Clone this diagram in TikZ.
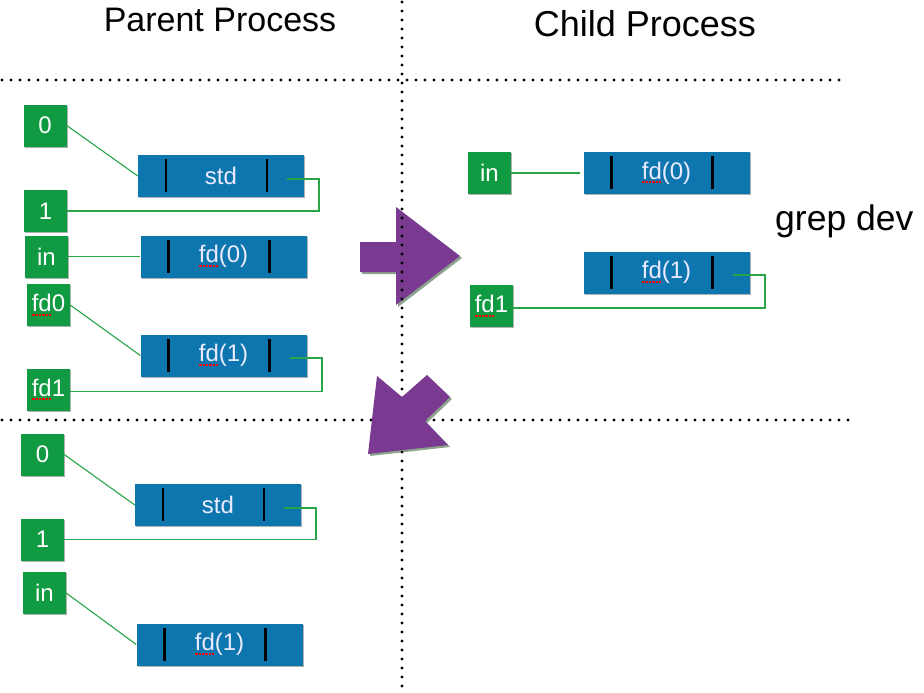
\documentclass[tikz,border=0pt]{standalone}
\usepackage{fontspec}
\setmainfont{Liberation Sans}
\usetikzlibrary{shadows,calc}
\definecolor{boxgreen}{RGB}{16,155,66}
\definecolor{boxblue}{RGB}{14,118,174}
\definecolor{linkgreen}{RGB}{40,165,70}
\definecolor{arrowpurple}{RGB}{122,58,145}
\newlength\spellw
\newcommand\spellul[1]{\settowidth\spellw{#1}\rlap{#1}\raisebox{-4pt}{\textcolor{red}{\hbox to \spellw{\xleaders\hbox to 3.2pt{\hss\rule{2.1pt}{2.1pt}\hss}\hfill}}}}
\tikzset{
  gbox/.style={fill=boxgreen, text=white, minimum width=43pt, minimum height=42pt, inner sep=0pt,
    font=\fontsize{24}{27}\selectfont,
    drop shadow={shadow xshift=1.2pt, shadow yshift=-1.2pt, opacity=0.3, fill=black}},
  bbox/.style={fill=boxblue, text=white!92!blue, minimum width=166pt, minimum height=42pt, inner sep=0pt,
    font=\fontsize{24}{27}\selectfont,
    drop shadow={shadow xshift=1.2pt, shadow yshift=-1.2pt, opacity=0.3, fill=black},
    path picture={
      \draw[line width=2.4pt, black] ([xshift=28pt,yshift=-4pt]path picture bounding box.north west) -- ([xshift=28pt,yshift=5pt]path picture bounding box.south west);
      \draw[line width=2.4pt, black] ([xshift=-37pt,yshift=-4pt]path picture bounding box.north east) -- ([xshift=-37pt,yshift=5pt]path picture bounding box.south east);
    }},
  conn/.style={draw=linkgreen, line width=1.1pt},
  dotline/.style={line width=3.2pt, line cap=round, dash pattern=on 0pt off 9pt, black},
  bigarrow/.style={fill=arrowpurple, draw=none,
    drop shadow={shadow xshift=2pt, shadow yshift=-2pt, opacity=0.45, fill=black!80!green}},
  title/.style={anchor=base, text=black}
}
\begin{document}
\begin{tikzpicture}[x=1pt, y=-1pt]
\useasboundingbox[fill=white] (0,0) rectangle (924,693);

% titles
\node[title, font=\fontsize{34}{38}\selectfont] (tparent) at (220,32) {Parent Process};
\node[title, font=\fontsize{36}{40}\selectfont] (tchild) at (645,37) {Child Process};
\node[anchor=base west, font=\fontsize{35.5}{40}\selectfont, inner sep=0pt] (grep) at (775,230) {grep dev};

% right arrow (under dotted lines)
\path[bigarrow] (360,242) -- (396,242) -- (396,207) -- (460,256) -- (396,305) -- (396,272) -- (360,272) -- cycle;

% dotted separators
\coordinate (vtop) at (402,2);
\coordinate (vbot) at (402,693);
\coordinate (h1l) at (2,80);
\coordinate (h1r) at (841,80);
\coordinate (h2l) at (2,420);
\coordinate (h2r) at (849,420);
\draw[dotline] (vtop) -- (vbot);
\draw[dotline] (h1l) -- (h1r);
\draw[dotline] (h2l) -- (h2r);

% down-left arrow (over dotted lines)
\path[bigarrow] (368,454) -- (377,376) -- (402,397) -- (427,375) -- (450,397) -- (425,421) -- (448,445) -- cycle;

% ---- parent, top ----
\node[gbox] (p0) at (45,125.5) {0};
\node[gbox] (p1) at (45.5,211) {1};
\node[gbox] (pin) at (46.5,256.5) {in};
\node[gbox] (pfd0) at (48.5,305) {\spellul{fd}0};
\node[gbox] (pfd1) at (48.5,389.5) {\spellul{fd}1};
\node[bbox] (pstd) at (221,176) {std};
\node[bbox] (pfdz) at (223.5,256.5) {\spellul{fd}(0)};
\node[bbox] (pfdo) at (223.5,355.5) {\spellul{fd}(1)};

\coordinate (pstdin) at (287,179);
\coordinate (pfdoin) at (290,358);
\draw[conn] (p0.east) -- (pstd.west);
\draw[conn] (pstdin) -- (319,179) |- (p1.east);
\draw[conn] (pin.east) -- (pfdz.west);
\draw[conn] (pfd0.east) -- (pfdo.west);
\draw[conn] (pfdoin) -- (322,358) |- ([yshift=-2pt]pfd1.east);

% ---- child ----
\node[gbox] (cin) at (489.5,173) {in};
\node[gbox] (cfd1) at (491.5,306) {\spellul{fd}1};
\node[bbox] (cfdz) at (666.5,173) {\spellul{fd}(0)};
\node[bbox] (cfdo) at (666.5,272.5) {\spellul{fd}(1)};
\coordinate (cfdoin) at (733,275);
\draw[conn] (cin.east) -- ([xshift=-3pt]cfdz.west);
\draw[conn] (cfdoin) -- (765,275) |- ([yshift=-2pt]cfd1.east);

% ---- parent, bottom ----
\node[gbox] (b0) at (42.5,454.5) {0};
\node[gbox] (b1) at (42.5,539.5) {1};
\node[gbox] (bin) at (44.5,593) {in};
\node[bbox] (bstd) at (218,505) {std};
\node[bbox] (bfdo) at (219.5,644.5) {\spellul{fd}(1)};
\coordinate (bstdin) at (284,508);
\draw[conn] (b0.east) -- (bstd.west);
\draw[conn] (bstdin) -- (316,508) |- (b1.east);
\draw[conn] (bin.east) -- (bfdo.west);
\end{tikzpicture}
\end{document}
